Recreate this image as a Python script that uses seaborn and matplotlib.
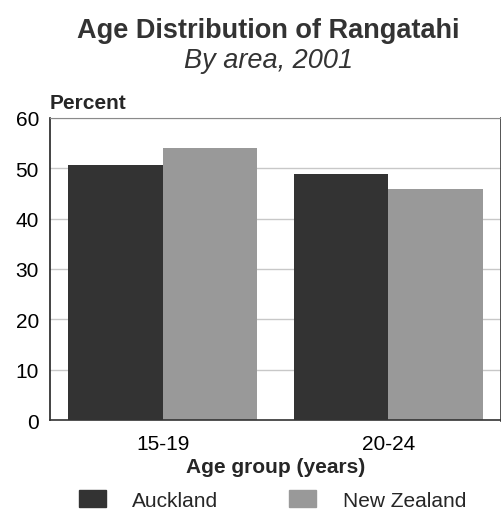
import pandas as pd
import matplotlib
matplotlib.use("Agg")
import matplotlib.pyplot as plt
import seaborn as sns

age_groups = ["15-19", "20-24"]
areas = ["Auckland", "New Zealand"]
auckland = [50.7, 48.9]
new_zealand = [54.1, 45.8]

df = pd.DataFrame({
    "Age group": age_groups * 2,
    "Area": [areas[0]] * 2 + [areas[1]] * 2,
    "Percent": auckland + new_zealand,
})

sns.set_style("white")
plt.rcParams["font.family"] = ["Liberation Sans", "DejaVu Sans"]

fig = plt.figure(figsize=(5.02, 5.10), dpi=100)
ax = fig.add_axes([0.0996, 0.1745, 0.8984, 0.5922])

sns.barplot(data=df, x="Age group", y="Percent", hue="Area", order=age_groups,
            hue_order=areas, palette=["#333333", "#999999"], width=0.84, gap=0,
            saturation=1, ax=ax, legend=False, linewidth=0)

ax.set_ylim(0, 60)
ax.set_xlim(-0.5, 1.5)
ax.set_yticks(range(0, 61, 10))
ax.yaxis.grid(True, color="#c8c8c8", linewidth=1)
ax.set_axisbelow(True)
ax.tick_params(axis="both", labelsize=15, length=0, colors="#000000")
ax.tick_params(axis="x", pad=10)
ax.tick_params(axis="y", pad=8)
ax.set_xlabel("Age group (years)", fontsize=15, fontweight="bold", labelpad=3)
ax.set_ylabel("")
ax.spines["left"].set_color("#222222")
ax.spines["bottom"].set_color("#333333")
ax.spines["right"].set_color("#444444")
ax.spines["right"].set_linewidth(2)
ax.spines["top"].set_color("#8a8a8a")
ax.spines["left"].set_linewidth(1.2)
ax.spines["bottom"].set_linewidth(1.2)

fig.text(0.534, 0.939, "Age Distribution of Rangatahi", ha="center", va="center",
         fontsize=19.5, fontweight="bold", color="#333333")
fig.text(0.534, 0.880, "By area, 2001", ha="center", va="center",
         fontsize=19.5, style="italic", color="#333333")
fig.text(0.0996, 0.798, "Percent", ha="left", va="center", fontsize=15,
         fontweight="bold")

handles = [plt.Rectangle((0, 0), 1, 1, color=c) for c in ["#333333", "#999999"]]
fig.legend(handles, areas, loc="center", bbox_to_anchor=(0.543, 0.018), ncol=2,
           frameon=False, fontsize=15, handlelength=1.3, handleheight=0.9,
           handletextpad=1.25, columnspacing=3.4, borderpad=0)

fig.savefig("out.png", dpi=100)
